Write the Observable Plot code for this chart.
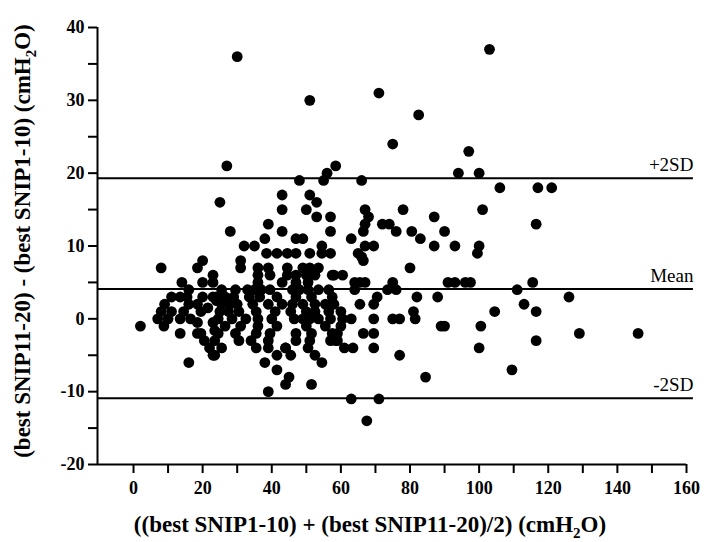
<!DOCTYPE html>
<html>
<head>
<meta charset="utf-8">
<script src="https://cdn.jsdelivr.net/npm/d3@7"></script>
<script src="https://cdn.jsdelivr.net/npm/@observablehq/plot@0.6"></script>
<style>
  html, body { margin: 0; padding: 0; background: white; }
  svg text.tickbold { font-weight: 700 !important; }
</style>
</head>
<body>
<div id="chart"></div>
<script>
const avgVals = [
  30, 51, 71, 82.5, 75, 97, 103,
  94, 100, 106, 117, 121, 101, 116.5, 90, 93, 100, 99.5,
  91, 93, 96, 97.5, 115.5, 111, 126, 113, 104.5, 116.5, 90, 100.5, 129, 146, 116.5, 100, 109.5,
  61, 63.5, 69.5, 77, 84.5, 63, 71, 67.5,
  38, 41.5, 45, 44, 51.5, 39, 41.5, 44, 45.5, 52.5, 54.5, 23.5, 59,
  2, 13.5, 16, 18.5, 20.5, 22, 23,
  8, 20, 18.5, 23, 23, 20, 14, 16,
  11, 9, 8, 7, 10, 11, 13.5, 15.5, 16, 14.5, 13.5, 16.5, 18.5, 19.5, 21.5, 20, 23, 24, 25, 23, 18.5, 23.5, 19.5, 8.8,
  27, 48, 55, 56, 58.5, 25, 43, 43, 51, 53, 50, 53, 57, 39, 28, 43, 57, 38, 32, 35, 47, 49, 54.5,
  38.5, 41.5, 44.5, 47, 51, 54.5, 57, 31,
  66, 67, 68, 78, 87, 67, 66.5, 72, 74, 76, 80.5, 83, 63, 65, 67, 69.5, 66, 87,
  66.5, 80, 58, 60.5, 64, 65.5, 67, 75, 64, 73.5, 76, 70.5, 69.5, 82, 88, 58, 65.5, 60, 60.5, 81, 81.5, 63, 69.5, 75, 77, 60, 59, 89, 66.5, 69.5, 58.5,
  31, 36, 39, 44.5, 49, 51, 53.5,
  36, 39.5, 44.5, 47, 50, 52.5, 57.5,
  36, 43, 47, 50.5,
  25.5, 29.5, 33, 35, 37, 39.5, 46, 48, 50.5, 53.5, 56.5,
  24, 26.5, 29, 33.5, 36.5, 41.5, 47, 51.5, 57.5,
  25.5, 28, 30, 34.5, 39, 43, 46, 49, 52.5, 55.5,
  27.5, 30.5, 35.5, 41, 45.5, 50, 52.5, 56.5,
  24.5, 28.5, 32.5, 36, 40, 46.5, 49, 51, 53.5, 57,
  26.5, 31, 36, 41.5, 50, 55.5,
  24.5, 29.5, 35.5, 39.5, 47, 51.5, 57.5,
  23.5, 30.5, 34, 39, 47, 51, 57,
  25.5, 35.5, 39, 44, 50.5
];
const diffVals = [
  36, 30, 31, 28, 24, 23, 37,
  20, 20, 18, 18, 18, 15, 13, 12, 10, 10, 9,
  5, 5, 5, 5, 5, 4, 3, 2, 1, 1, -1, -1, -2, -2, -3, -4, -7,
  -4, -4, -4, -5, -8, -11, -11, -14,
  -6, -7, -8, -9, -9, -10, -5, -4, -5, -5, -6, -5, -3,
  -1, -2, -6, -2, -3, -4, -5,
  7, 8, 7, 6, 5, 5, 5, 4,
  3, 2, 1, 0, 0, 1, 3, 3, 2, 1, 0, 0, 2, 1, 1.5, 3, 3, 2.5, 1, -0.5, -0.5, -1.6, -2, -1,
  21, 19, 19, 20, 21, 16, 17, 15, 17, 16, 15, 14, 14, 13, 12, 12, 12, 11, 10, 10, 11, 11, 10,
  9, 9, 9, 9, 9, 9, 9, 8,
  19, 15, 14, 15, 14, 13, 12, 13, 13, 12, 12, 11, 11, 9, 10, 10, 8.5, 10,
  8, 7, 6, 6, 5, 5, 5, 5, 4, 4, 4, 3, 2, 3, 3, 2, 2, 1, 0, 1, 0, 0, 0, 0, 0, -1, -2, -1, -2, -2, -3,
  7, 7, 7, 7, 7, 7, 7,
  6, 6, 6, 6, 6, 6, 6,
  5, 5, 5, 5,
  4, 4, 4, 4, 4, 4, 4, 4, 4, 4, 4,
  3, 3, 3, 3, 3, 3, 3, 3, 3,
  2, 2, 2, 2, 2, 2, 2, 2, 2, 2,
  1, 1, 1, 1, 1, 1, 1, 1,
  0, 0, 0, 0, 0, 0, 0, 0, 0, 0,
  -1, -1, -1, -1, -1, -1,
  -2, -2, -2, -2, -2, -2, -2,
  -3, -3, -3, -3, -3, -3, -3,
  -4, -4, -4, -4, -4
];
// Limits of agreement
const limitVals = [19.3, 4.1, -10.9];
const limitLabels = ["+2SD", "Mean", "-2SD"];
// Axis ticks
const xTicks = [0, 20, 40, 60, 80, 100, 120, 140, 160];
const xMinor = [10, 30, 50, 70, 90, 110, 130, 150];
const yTicks = [-20, -10, 0, 10, 20, 30, 40];
const yMinor = [-15, -5, 5, 15, 25, 35];
const xTitle = "((best SNIP1-10) + (best SNIP11-20)/2) (cmH";
const yTitle = "(best SNIP11-20) - (best SNIP1-10) (cmH";

const data = avgVals.map((a, i) => ({avg: a, diff: diffVals[i]}));
const limits = limitVals.map((v, i) => ({v, label: limitLabels[i]}));
const xLeft = -10.42;
const serif = "'Liberation Serif', 'Times New Roman', serif";

const chart = Plot.plot({
  width: 708,
  height: 542,
  marginLeft: 97,
  marginRight: 22,
  marginTop: 27,
  marginBottom: 78,
  x: {domain: [xLeft, 160]},
  y: {domain: [-20, 40]},
  style: {fontFamily: serif, fontSize: "18px", color: "black", background: "white"},
  marks: [
    Plot.axisY({ticks: yTicks, tickSize: 9, tickPadding: 4, strokeWidth: 2, label: null, tickFormat: d => String(d), fontSize: 18}),
    Plot.axisY({ticks: yMinor, tickSize: 9, strokeWidth: 2, label: null, tickFormat: () => ""}),
    Plot.axisX({ticks: xTicks, tickSize: 9, tickPadding: 8, strokeWidth: 2, label: null, tickFormat: d => String(d), fontSize: 18}),
    Plot.axisX({ticks: xMinor, tickSize: 9, strokeWidth: 2, label: null, tickFormat: () => ""}),
    Plot.ruleX([xLeft], {y1: -20, y2: 40, strokeWidth: 2}),
    Plot.ruleY([-20], {x1: xLeft, x2: 160, strokeWidth: 2}),
    Plot.ruleY(limits, {y: "v", x1: xLeft, x2: 162, strokeWidth: 2, clip: false}),
    Plot.text(limits, {y: "v", x: 162, text: "label", textAnchor: "end", dy: -13, fontSize: 19, clip: false}),
    Plot.dot(data, {x: "avg", y: "diff", r: 5.4, fill: "black", stroke: "none"})
  ]
});

const svg = d3.select(chart);
// Heavy bold tick labels like the reference (all texts except the limit labels)
svg.selectAll("text").each(function() {
  if (!limitLabels.includes(this.textContent.trim())) {
    this.classList.add("tickbold");
    this.setAttribute("font-weight", "bold");
    this.style.fontWeight = "bold";
  }
});

const xt = svg.append("text")
  .attr("x", 370).attr("y", 532)
  .attr("text-anchor", "middle")
  .style("font-family", serif)
  .style("font-size", "23px").style("font-weight", "bold").attr("fill", "black");
xt.append("tspan").text(xTitle);
xt.append("tspan").attr("dy", 6).style("font-size", "15px").text("2");
xt.append("tspan").attr("dy", -6).text("O)");

const yt = svg.append("text")
  .attr("transform", "translate(30,241) rotate(-90)")
  .attr("text-anchor", "middle")
  .style("font-family", serif)
  .style("font-size", "23px").style("font-weight", "bold").attr("fill", "black");
yt.append("tspan").text(yTitle);
yt.append("tspan").attr("dy", 6).style("font-size", "15px").text("2");
yt.append("tspan").attr("dy", -6).text("O)");

document.getElementById("chart").appendChild(chart);
</script>
</body>
</html>
